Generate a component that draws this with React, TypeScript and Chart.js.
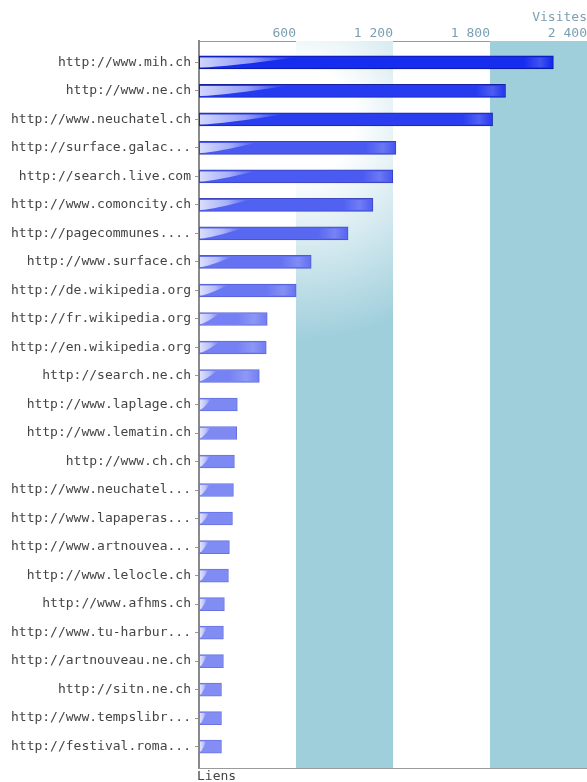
import React, { useEffect, useRef } from "react";
import { Chart, registerables } from "chart.js";

Chart.register(...registerables);

const labels = [
  "http://www.mih.ch",
  "http://www.ne.ch",
  "http://www.neuchatel.ch",
  "http://surface.galac...",
  "http://search.live.com",
  "http://www.comoncity.ch",
  "http://pagecommunes....",
  "http://www.surface.ch",
  "http://de.wikipedia.org",
  "http://fr.wikipedia.org",
  "http://en.wikipedia.org",
  "http://search.ne.ch",
  "http://www.laplage.ch",
  "http://www.lematin.ch",
  "http://www.ch.ch",
  "http://www.neuchatel...",
  "http://www.lapaperas...",
  "http://www.artnouvea...",
  "http://www.lelocle.ch",
  "http://www.afhms.ch",
  "http://www.tu-harbur...",
  "http://artnouveau.ne.ch",
  "http://sitn.ne.ch",
  "http://www.tempslibr...",
  "http://festival.roma...",
];

const visits = [
  2192, 1896, 1816, 1218, 1199, 1076, 922, 694, 601, 422, 416, 373, 237, 233,
  219, 213, 207, 188, 182, 157, 151, 151, 139, 139, 139,
];

const xTicks = [0, 600, 1200, 1800, 2400];
const xTitle = "Visites";
const yTitle = "Liens";

const FONT = "'DejaVu Sans Mono', monospace";
const TEAL = "#a0cfdc";

function mix(a: number[], b: number[], t: number) {
  return a.map((v, i) => Math.round(v + (b[i] - v) * t));
}
const maxV = Math.max(...visits);
function fillFor(v: number) {
  const c = mix([138, 148, 244], [22, 44, 238], v / maxV);
  return `rgb(${c[0]},${c[1]},${c[2]})`;
}
function borderFor(v: number) {
  const c = mix([112, 124, 232], [8, 18, 150], v / maxV);
  return `rgb(${c[0]},${c[1]},${c[2]})`;
}

const bandsPlugin = {
  id: "bands",
  beforeDatasetsDraw(chart: any) {
    const { ctx, chartArea } = chart;
    const xs = chart.scales.x;
    const top = chartArea.top;
    const h = chartArea.bottom - chartArea.top;
    ctx.save();
    for (let i = 0; i < xTicks.length - 1; i++) {
      const x0 = xs.getPixelForValue(xTicks[i]);
      const x1 = xs.getPixelForValue(xTicks[i + 1]);
      if (i % 2 === 0) continue;
      if (i === 1) {
        const cx = x0 + 3;
        const cy = top + h * 0.11;
        const g = ctx.createRadialGradient(cx, cy, 0, cx, cy, h * 0.3);
        g.addColorStop(0, "#ffffff");
        g.addColorStop(0.25, "#ffffff");
        g.addColorStop(1, TEAL);
        ctx.fillStyle = g;
      } else {
        ctx.fillStyle = TEAL;
      }
      ctx.fillRect(x0, top, x1 - x0, h);
    }
    ctx.restore();
  },
  afterDatasetsDraw(chart: any) {
    const { ctx, chartArea } = chart;
    ctx.save();
    const meta = chart.getDatasetMeta(0);
    meta.data.forEach((bar: any) => {
      const { x, y, base, height } = bar.getProps(["x", "y", "base", "height"], true);
      const left = base + 1;
      const len = x - base;
      const w = Math.max(5, Math.min(len * 0.28, 95));
      const t = y - height / 2 + 1.5;
      const b = y + height / 2 - 1.5;
      const g = ctx.createLinearGradient(left, 0, left + w, 0);
      g.addColorStop(0, "rgba(240,242,255,0.85)");
      g.addColorStop(0.55, "rgba(240,242,255,0.55)");
      g.addColorStop(1, "rgba(240,242,255,0)");
      ctx.fillStyle = g;
      ctx.beginPath();
      ctx.moveTo(left, t);
      ctx.lineTo(left + w, t);
      ctx.quadraticCurveTo(left + w * 0.3, b - 1, left + 1, b);
      ctx.lineTo(left, b);
      ctx.closePath();
      ctx.fill();
      if (len > 40) {
        const g2 = ctx.createLinearGradient(x - 30, 0, x - 2, 0);
        g2.addColorStop(0, "rgba(255,255,255,0)");
        g2.addColorStop(0.6, "rgba(255,255,255,0.18)");
        g2.addColorStop(1, "rgba(255,255,255,0)");
        ctx.fillStyle = g2;
        ctx.fillRect(x - 30, t, 28, b - t);
      }
    });
    ctx.strokeStyle = "#9a9a9a";
    ctx.lineWidth = 1;
    ctx.beginPath();
    ctx.moveTo(chartArea.left, chartArea.bottom + 0.5);
    ctx.lineTo(chartArea.right, chartArea.bottom + 0.5);
    ctx.stroke();
    ctx.fillStyle = "#444444";
    ctx.font = `13px ${FONT}`;
    ctx.textAlign = "left";
    ctx.textBaseline = "top";
    ctx.fillText(yTitle, chartArea.left - 2, chartArea.bottom + 2);
    ctx.restore();
  },
};

export default function App() {
  const ref = useRef<HTMLCanvasElement | null>(null);
  useEffect(() => {
    if (!ref.current) return;
    const chart: any = new Chart(ref.current, {
      type: "bar",
      data: {
        datasets: [
          {
            data: visits.map((v, i) => ({ x: v, y: i })),
            backgroundColor: visits.map(fillFor),
            borderColor: visits.map(borderFor),
            borderWidth: 1,
            borderSkipped: false,
            barThickness: 13,
          },
        ],
      },
      options: {
        indexAxis: "y",
        animation: false,
        responsive: true,
        maintainAspectRatio: false,
        layout: { padding: { left: 0, right: 0, top: 0, bottom: 14 } },
        plugins: { legend: { display: false }, tooltip: { enabled: false } },
        scales: {
          x: {
            type: "linear",
            position: "top",
            min: xTicks[0],
            max: xTicks[xTicks.length - 1],
            afterBuildTicks: (s: any) => {
              s.ticks = xTicks.map((v) => ({ value: v }));
            },
            afterFit: (s: any) => {
              s.height = 41;
            },
            grid: { display: false, drawTicks: false },
            border: { display: true, color: "#9a9a9a", width: 1 },
            ticks: {
              align: "end",
              padding: 0,
              color: "#7a9fb2",
              font: { family: FONT, size: 13 },
              callback: (v: any) =>
                v === 0 ? "" : String(v).replace(/\B(?=(\d{3})+(?!\d))/g, " "),
            },
            title: {
              display: true,
              text: xTitle,
              align: "end",
              color: "#7a9fb2",
              font: { family: FONT, size: 13 },
              padding: { top: 10, bottom: 0 },
            },
          },
          y: {
            type: "linear",
            reverse: true,
            offset: false,
            min: -0.75,
            max: labels.length - 0.25,
            afterBuildTicks: (s: any) => {
              s.ticks = labels.map((_, i) => ({ value: i }));
            },
            afterFit: (s: any) => {
              s.width = 199;
            },
            grid: {
              offset: false,
              drawOnChartArea: false,
              drawTicks: true,
              tickLength: 4,
              color: "#999999",
            },
            border: { display: true, color: "#8a8a8a", width: 2 },
            ticks: {
              autoSkip: false,
              padding: 4,
              color: "#444444",
              font: { family: FONT, size: 13 },
              callback: (v: any) => labels[v] ?? "",
            },
          },
        },
      },
      plugins: [bandsPlugin],
    } as any);
    return () => chart.destroy();
  }, []);
  return (
    <div style={{ position: "absolute", left: 0, top: 0, width: 587, height: 782 }}>
      <canvas ref={ref} />
    </div>
  );
}
